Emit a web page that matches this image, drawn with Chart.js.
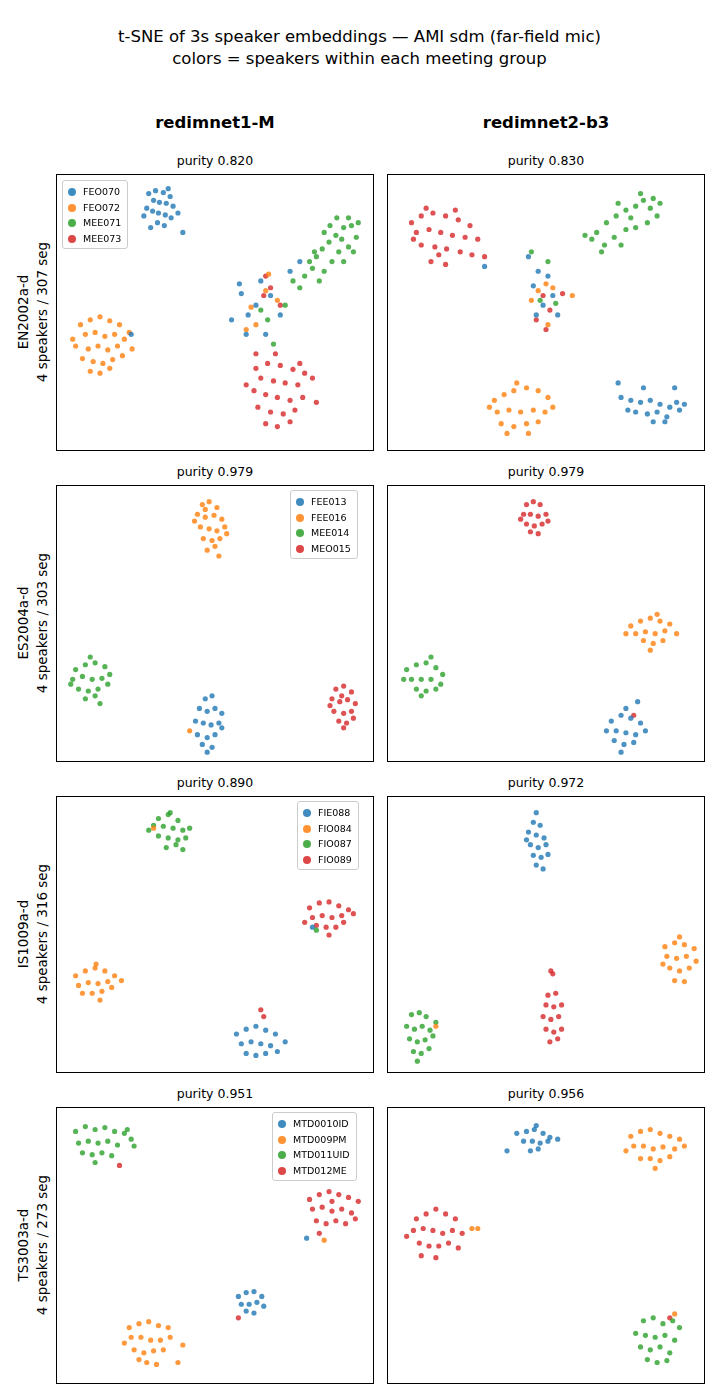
<!DOCTYPE html>
<html>
<head>
<meta charset="utf-8">
<script src="https://cdn.jsdelivr.net/npm/chart.js@4/dist/chart.umd.min.js"></script>
<style>
  body { margin: 0; width: 719px; height: 1400px; background: #fff; font-family: "DejaVu Sans", sans-serif; position: relative; }
  .abs { position: absolute; }
  .title { left: 0; width: 719px; top: 26px; text-align: center; font-size: 16.5px; line-height: 22px; }
  .col { font-weight: bold; font-size: 16.5px; width: 316px; text-align: center; top: 113px; }
  .ptitle { font-size: 12.5px; width: 316px; text-align: center; }
  .panel { border: 1px solid #000; width: 316px; height: 275px; box-sizing: content-box; }
  .ylab { font-size: 13.5px; line-height: 19px; text-align: center; transform: rotate(-90deg); transform-origin: center; width: 275px; }
  .legend { background: rgba(255,255,255,0.85); border: 1px solid #ccc; border-radius: 3px; font-size: 9.5px; padding: 3px 6px 2px 5px; line-height: 15.5px; }
  .legend span.dot { display: inline-block; width: 8px; height: 8px; border-radius: 50%; margin-right: 7px; vertical-align: -1px; opacity: 0.85; }
</style>
</head>
<body>
<div class="abs title">t-SNE of 3s speaker embeddings — AMI sdm (far-field mic)<br>colors = speakers within each meeting group</div>
<div class="abs col" style="left:57px">redimnet1-M</div>
<div class="abs col" style="left:388px">redimnet2-b3</div>
<div id="root"></div>
<script>
const colors = ["#1f77b4", "#ff7f0e", "#2ca02c", "#d62728"];
const columnLeft = [57, 388];
const rowTop = [175, 486, 797, 1108];
const groups = ["EN2002a-d", "ES2004a-d", "IS1009a-d", "TS3003a-d"];
const groupInfo = ["4 speakers / 307 seg", "4 speakers / 303 seg", "4 speakers / 316 seg", "4 speakers / 273 seg"];
const speakers = [
  ["FEO070", "FEO072", "MEE071", "MEE073"],
  ["FEE013", "FEE016", "MEE014", "MEO015"],
  ["FIE088", "FIO084", "FIO087", "FIO089"],
  ["MTD0010ID", "MTD009PM", "MTD011UID", "MTD012ME"]
];
const purity = [[0.820, 0.830], [0.979, 0.979], [0.890, 0.972], [0.951, 0.956]];

// panel-local coords: x 0..316, y 0..275 from top
// row 1 left
const p1a = [[90,15],[97,12],[105,14],[112,18],[95,22],[101,24],[108,25],[115,28],[88,30],[94,33],[100,35],[107,37],[113,40],[99,45],[106,48],[92,50],[120,35],[125,55],[85,38],[110,10],
  [175,145],[185,118],[190,160],[200,130],[183,108],[215,120],[225,140],[245,85],[235,95],[205,105],[192,140],[210,160],[72,160]];
const p1b = [[20,150],[30,145],[40,142],[50,146],[60,150],[25,160],[35,158],[45,162],[55,160],[65,165],[15,172],[28,175],[38,172],[48,176],[58,172],[70,158],[22,185],[33,188],[43,190],[53,186],[63,182],[40,200],[30,198],[50,195],[12,165],[73,175],
  [190,155],[200,150],[213,98],[210,115],[222,125],[195,132]];
const p1c = [[245,112],[250,100],[258,92],[262,80],[268,72],[275,65],[282,58],[290,50],[298,48],[303,60],[295,70],[285,75],[278,85],[270,95],[260,75],[283,40],[270,55],[290,85],[300,75],[305,45],[265,105],[255,85],[276,48],[288,62],[295,40],
  [212,145],[218,170],[205,135],[230,130],[238,105]];
const p1d = [[200,195],[212,190],[225,192],[238,196],[250,200],[205,205],[218,208],[230,210],[243,212],[198,218],[210,222],[222,225],[235,228],[248,225],[202,235],[215,240],[228,242],[240,238],[210,252],[222,255],[235,250],[258,205],[262,230],[190,212],[245,190],
  [208,120],[215,112],[225,130],[200,180],[220,180],[210,100]];
// row 1 right
const p2a = [[140,80],[150,95],[160,100],[145,110],[165,120],[155,130],[170,140],[148,140],[95,90],
  [235,225],[245,228],[255,230],[265,228],[275,232],[285,235],[295,238],[250,240],[262,242],[272,240],[282,245],[292,230],[268,250],[280,250],[258,215],[290,215],[300,232],[232,210],[242,238]];
const p2b = [[150,115],[158,108],[165,112],[143,125],[160,150],[185,120],
  [105,228],[115,222],[125,218],[138,215],[150,218],[160,225],[108,240],[120,238],[132,240],[145,238],[157,240],[112,252],[125,255],[138,252],[150,250],[128,210],[140,262],[100,235],[165,235],[118,262]];
const p2c = [[210,55],[220,45],[230,38],[240,32],[250,28],[258,22],[265,30],[272,38],[262,45],[250,50],[240,52],[228,60],[218,68],[205,62],[235,68],[245,40],[255,15],[268,20],[275,25],[232,25],[215,75],[198,58],
  [143,75],[160,85],[152,125],[168,128]];
const p2d = [[20,45],[30,38],[42,35],[55,38],[68,42],[80,48],[25,55],[38,52],[50,55],[62,58],[75,60],[88,62],[30,68],[44,70],[56,72],[70,75],[82,78],[40,85],[55,88],[22,62],[35,30],[95,80],[65,32],[48,78],
  [155,120],[162,135],[175,118],[148,145],[158,155]];
// row 2 left
const p3a = [[148,215],[155,212],[142,225],[150,228],[158,225],[165,230],[138,238],[146,240],[154,242],[162,240],[140,252],[150,255],[158,252],[165,245],[145,262],[155,265],[150,270]];
const p3b = [[145,15],[152,12],[160,18],[140,25],[148,28],[157,26],[165,30],[143,38],[152,40],[160,42],[168,38],[146,50],[155,52],[163,50],[150,62],[158,58],[162,68],[137,32],[170,45],[148,20],[132,248]];
const p3c = [[15,185],[25,180],[35,178],[45,182],[12,195],[22,192],[32,195],[42,194],[50,190],[18,205],[28,207],[38,205],[48,200],[25,215],[35,212],[30,172],[40,220],[10,200]];
const p3d = [[282,205],[290,202],[298,208],[278,215],[286,218],[294,216],[302,220],[280,228],[290,230],[298,228],[285,238],[293,240],[288,212],[300,235],[276,222],[290,245]];
// row 2 right
const p4a = [[225,238],[235,232],[245,235],[255,240],[220,248],[230,248],[240,250],[250,252],[260,248],[228,258],[238,262],[248,260],[240,225],[235,270],[252,218]];
const p4b = [[245,140],[255,135],[265,132],[275,135],[285,138],[250,148],[260,146],[270,148],[280,145],[292,148],[258,155],[268,158],[278,155],[265,165],[240,148],[272,128]];
const p4c = [[15,185],[25,180],[35,178],[45,183],[52,190],[20,195],[30,195],[40,195],[50,200],[25,205],[35,207],[45,205],[30,212],[12,195],[40,172]];
const p4d = [[138,15],[145,12],[152,15],[135,25],[142,25],[150,27],[158,25],[138,35],[146,37],[154,35],[142,43],[150,45],[160,32],[132,30],[248,232]];
// row 3 left
const p5a = [[180,240],[190,235],[200,232],[210,236],[220,240],[185,250],[195,248],[205,250],[215,252],[230,248],[190,260],[200,262],[210,260],[222,258],[258,130]];
const p5b = [[15,180],[25,175],[35,172],[45,175],[55,180],[62,185],[18,190],[28,187],[38,188],[48,186],[22,198],[32,198],[42,196],[52,192],[36,168],[40,205],[95,28]];
const p5c = [[100,18],[110,14],[120,20],[95,25],[105,26],[115,28],[125,30],[132,28],[100,36],[110,38],[120,40],[128,38],[108,48],[118,45],[112,12],[90,30],[125,50],[262,133]];
const p5d = [[255,110],[265,105],[275,104],[285,108],[295,112],[300,116],[258,120],[268,118],[278,120],[288,118],[262,128],[272,130],[282,130],[290,125],[275,138],[250,125],[205,215],[208,222]];
// row 3 right
const p6a = [[148,12],[145,22],[152,25],[140,32],[148,35],[156,38],[142,45],[150,48],[158,45],[145,56],[153,58],[160,55],[148,66],[155,70],[138,40]];
const p6b = [[280,150],[290,146],[300,148],[310,152],[282,160],[292,162],[302,160],[312,165],[285,172],[295,175],[305,172],[290,185],[300,186],[295,140],[278,168],[45,232]];
const p6c = [[20,220],[28,218],[35,222],[15,232],[23,235],[31,232],[39,236],[18,245],[26,248],[34,246],[42,242],[22,258],[30,260],[38,255],[26,268],[45,228]];
const p6d = [[160,200],[168,198],[158,210],[166,212],[174,210],[155,222],[163,225],[171,222],[158,235],[166,238],[174,235],[162,248],[170,245],[165,178],[163,175]];
// row 4 left
const p7a = [[182,190],[190,186],[198,185],[206,190],[185,198],[193,198],[201,196],[208,200],[190,205],[198,207],[252,130]];
const p7b = [[70,222],[80,218],[90,216],[100,220],[110,222],[72,232],[82,232],[92,235],[102,235],[112,232],[125,240],[75,245],[85,248],[95,246],[105,245],[88,258],[98,260],[80,255],[65,238],[120,258],[270,132]];
const p7c = [[15,20],[25,15],[35,18],[45,16],[55,20],[65,22],[72,28],[18,32],[28,30],[38,32],[48,30],[58,34],[22,42],[32,44],[42,42],[52,45],[35,52],[68,18],[75,35]];
const p7d = [[255,90],[265,85],[275,82],[285,85],[295,88],[305,92],[258,100],[268,98],[278,102],[288,100],[298,104],[262,112],[272,115],[282,112],[292,115],[302,110],[278,92],[265,125],[60,55],[182,212]];
// row 4 right
const p8a = [[128,22],[138,20],[146,18],[155,22],[162,26],[135,30],[144,30],[152,32],[160,30],[170,28],[142,40],[150,38],[118,40],[148,14]];
const p8b = [[245,25],[255,20],[265,18],[275,22],[285,25],[295,28],[248,35],[258,35],[268,38],[278,36],[290,38],[300,35],[255,48],[265,48],[275,50],[285,46],[270,58],[240,40],[82,120],[88,120],[290,208]];
const p8c = [[258,215],[268,212],[278,218],[288,215],[250,228],[260,230],[270,232],[280,230],[290,235],[255,242],[265,245],[275,242],[285,248],[262,255],[272,258],[282,256],[295,222]];
const p8d = [[25,110],[35,105],[45,100],[55,105],[65,110],[22,122],[32,120],[42,122],[52,125],[62,122],[72,125],[28,135],[38,138],[48,138],[58,135],[68,140],[45,150],[30,148],[15,128],[285,212]];

const panelData = [
  [[p1a, p1b, p1c, p1d], [p2a, p2b, p2c, p2d]],
  [[p3a, p3b, p3c, p3d], [p4a, p4b, p4c, p4d]],
  [[p5a, p5b, p5c, p5d], [p6a, p6b, p6c, p6d]],
  [[p7a, p7b, p7c, p7d], [p8a, p8b, p8c, p8d]]
];
// legend placement (only left column), left/top in page px
const legendPos = [[62, 180], [290, 490], [297, 801], [272, 1112]];

const root = document.getElementById("root");
function add(cls, style, html) {
  const d = document.createElement("div");
  d.className = "abs " + cls;
  d.setAttribute("style", style);
  d.innerHTML = html;
  root.appendChild(d);
  return d;
}

function hexA(hex, a) {
  const n = parseInt(hex.slice(1), 16);
  return `rgba(${n >> 16},${(n >> 8) & 255},${n & 255},${a})`;
}

for (let r = 0; r < 4; r++) {
  add("ylab", `left:${-137 + 32}px; top:${rowTop[r] + 137 - 19}px; height:38px;`, groups[r] + "<br>" + groupInfo[r]);
  for (let c = 0; c < 2; c++) {
    const left = columnLeft[c], top = rowTop[r];
    add("ptitle", `left:${left}px; top:${top - 22}px;`, "purity " + purity[r][c].toFixed(3));
    const box = add("panel", `left:${left - 1}px; top:${top - 1}px;`, "");
    const canvas = document.createElement("canvas");
    canvas.width = 316; canvas.height = 275;
    box.appendChild(canvas);
    new Chart(canvas.getContext("2d"), {
      type: "scatter",
      data: {
        datasets: panelData[r][c].map((pts, i) => ({
          label: speakers[r][i],
          data: pts.map(p => ({ x: p[0], y: p[1] })),
          backgroundColor: hexA(colors[i], 0.8),
          borderWidth: 0,
          pointRadius: 2.6,
        })),
      },
      options: {
        responsive: false,
        animation: false,
        layout: { padding: 0 },
        plugins: { legend: { display: false }, tooltip: { enabled: false } },
        scales: {
          x: { type: "linear", min: 0, max: 316, display: false },
          y: { type: "linear", min: 0, max: 275, reverse: true, display: false },
        },
      },
    });
  }
  const items = speakers[r].map((s, i) => `<div><span class="dot" style="background:${colors[i]}"></span>${s}</div>`).join("");
  add("legend", `left:${legendPos[r][0]}px; top:${legendPos[r][1]}px;`, items);
}
</script>
</body>
</html>
